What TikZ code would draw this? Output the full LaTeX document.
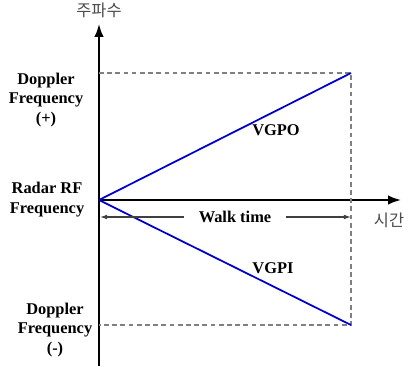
\documentclass[tikz,border=0pt]{standalone}
\usepackage{fontspec}
\setmainfont{Liberation Serif}
\newfontfamily\krfont{Noto Sans CJK KR}
\usetikzlibrary{arrows.meta}

\begin{document}
\begin{tikzpicture}[x=0.03cm, y=-0.03cm,
  every node/.style={font=\bfseries\fontsize{14}{17}\selectfont, align=center, inner sep=1pt},
  axis/.style={line width=1.6pt, -{Latex[length=11pt,width=8pt]}},
  guide/.style={gray, line width=0.9pt, dash pattern=on 4pt off 3pt},
  ramp/.style={blue!80!black, line width=1.5pt},
  span/.style={line width=0.9pt, black!75, -{Latex[length=6pt,width=4pt]}},
  kr/.style={font=\krfont\fontsize{14}{16}\selectfont, text=black!70}]
\useasboundingbox (0,0) rectangle (409,367);

% axes
\coordinate (o) at (99,200);
\coordinate (ybot) at (99,366);
\coordinate (ytop) at (99,24);
\coordinate (xend) at (401,200);
\draw[axis] (ybot) -- (ytop);
\draw[axis] (o) -- (xend);
\node[kr] (freq) at (99,10) {주파수};
\node[kr] (time) at (389,220) {시간};

% limits
\coordinate (up) at (351,73);
\coordinate (dn) at (351,325);
\draw[guide] (o |- up) -- (up) -- (dn) -- (o |- dn);

% frequency ramps
\draw[ramp] (o) -- (up);
\draw[ramp] (o) -- (dn);
\node (vgpo) at (276,130) {VGPO};
\node (vgpi) at (273,268) {VGPI};

% walk time
\coordinate (wl) at (100,217);
\coordinate (wr) at (351,217);
\node[inner xsep=12pt] (walk) at (235,217) {Walk time};
\draw[span] (walk.west) -- (wl);
\draw[span] (walk.east) -- (wr);

% left labels
\node (dplus) at (46,100) {Doppler\\Frequency\\(+)};
\node (radar) at (47,200) {Radar RF\\Frequency};
\node (dminus) at (55,330) {Doppler\\Frequency\\(-)};
\end{tikzpicture}
\end{document}
